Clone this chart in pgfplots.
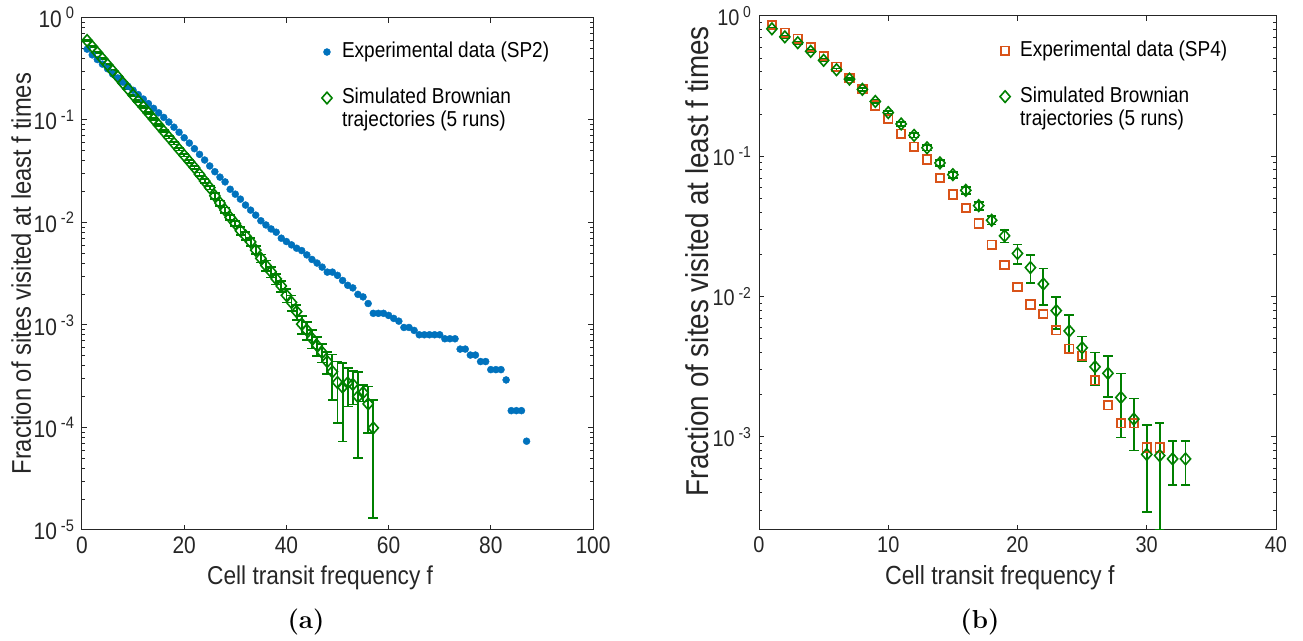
\documentclass[border=0pt]{standalone}
\usepackage{fontspec}
\setsansfont{Liberation Sans}[FakeStretch=0.88]
\usepackage{pgfplots}
\pgfplotsset{compat=1.18}
\usepackage{pgfplotstable}

\definecolor{mblue}{RGB}{0,114,189}
\definecolor{mgreen}{RGB}{0,128,0}
\definecolor{morange}{RGB}{217,83,25}
\definecolor{axgray}{RGB}{38,38,38}

% Panel (a): experimental data SP2
\pgfplotstableread{
f v
1 0.491
2 0.432
3 0.389
4 0.351
5 0.316
6 0.281
7 0.257
8 0.234
9 0.213
10 0.195
11 0.177
12 0.160
13 0.1445
14 0.130
15 0.1175
16 0.106
17 0.0955
18 0.0851
19 0.0759
20 0.0671
21 0.0596
22 0.0525
23 0.0462
24 0.0407
25 0.0356
26 0.0313
27 0.0277
28 0.0249
29 0.0211
30 0.0189
31 0.0169
32 0.0148
33 0.0132
34 0.0118
35 0.0104
36 0.00946
37 0.00865
38 0.00804
39 0.00703
40 0.00652
41 0.00605
42 0.00561
43 0.00532
44 0.00483
45 0.00436
46 0.00402
47 0.00367
48 0.00328
49 0.00328
50 0.00305
51 0.00272
52 0.00244
53 0.00230
54 0.00199
55 0.00188
56 0.00162
57 0.00130
58 0.00130
59 0.00130
60 0.00124
61 0.00116
62 0.00109
63 0.000946
64 0.000946
65 0.000885
66 0.000803
67 0.000803
68 0.000803
69 0.000803
70 0.000803
71 0.000734
72 0.000734
73 0.000734
74 0.000582
75 0.000582
76 0.000509
77 0.000509
78 0.000440
79 0.000440
80 0.000367
81 0.000367
82 0.000367
83 0.000291
84 0.000146
85 0.000146
86 0.000146
87 0.0000735
}\expA

% Panel (a): simulated Brownian trajectories
\pgfplotstableread{
f v e
1 0.596 0.009
2 0.520 0.008
3 0.454 0.007
4 0.396 0.006
5 0.346 0.005
6 0.302 0.0045
7 0.264 0.004
8 0.230 0.0035
9 0.201 0.003
10 0.175 0.0026
11 0.153 0.0038
12 0.134 0.0034
13 0.117 0.0029
14 0.102 0.0026
15 0.0889 0.0022
16 0.0776 0.0019
17 0.0678 0.0017
18 0.0592 0.0015
19 0.0516 0.0013
20 0.0451 0.0011
21 0.0394 0.0016
22 0.0344 0.0014
23 0.0295 0.0012
24 0.0254 0.0010
25 0.0219 0.0009
26 0.0182 0.0011
27 0.0155 0.0009
28 0.0132 0.0008
29 0.0112 0.0007
30 0.00977 0.0006
31 0.00832 0.00075
32 0.00741 0.00067
33 0.00646 0.00058
34 0.00537 0.00048
35 0.00447 0.0004
36 0.00380 0.00046
37 0.00331 0.0004
38 0.00282 0.00034
39 0.00240 0.00029
40 0.00195 0.00029
41 0.00166 0.00028
42 0.00135 0.00023
43 0.00102 0.0002
44 0.00089 0.00018
45 0.00074 0.00015
46 0.00063 0.00013
47 0.00054 0.00011
48 0.00044 0.00011
49 0.00035 0.000166
50 0.000275 0.000165
51 0.000248 0.000175
52 0.000272 0.000112
53 0.000263 0.000095
54 0.000200 0.00015
55 0.000219 0.00004
56 0.000170 0.000081
57 0.000099 0.000086
}\simA

% Panel (b): experimental data SP4
\pgfplotstableread{
f v
1 0.86
2 0.76
3 0.69
4 0.60
5 0.52
6 0.435
7 0.36
8 0.30
9 0.23
10 0.185
11 0.145
12 0.117
13 0.095
14 0.070
15 0.0535
16 0.0428
17 0.0332
18 0.0234
19 0.0168
20 0.0117
21 0.00877
22 0.00752
23 0.00575
24 0.00425
25 0.00379
26 0.00253
27 0.00168
28 0.00125
29 0.00125
30 0.00084
31 0.00084
}\expB

% Panel (b): simulated Brownian trajectories
\pgfplotstableread{
f v e
1 0.81 0.01
2 0.71 0.01
3 0.645 0.01
4 0.56 0.009
5 0.483 0.008
6 0.414 0.008
7 0.355 0.007
8 0.30 0.007
9 0.246 0.006
10 0.205 0.006
11 0.170 0.006
12 0.141 0.005
13 0.115 0.005
14 0.0897 0.004
15 0.074 0.0035
16 0.0572 0.003
17 0.0445 0.003
18 0.0350 0.0024
19 0.0271 0.0028
20 0.0203 0.0032
21 0.0161 0.0036
22 0.0123 0.00355
23 0.00794 0.00204
24 0.00569 0.00169
25 0.00432 0.00087
26 0.00316 0.00083
27 0.00284 0.00091
28 0.00191 0.00092
29 0.00134 0.00054
30 0.00075 0.00046
31 0.000736 0.00052
32 0.000697 0.00024
33 0.000697 0.00024
}\simB

\begin{document}
\begin{tikzpicture}
\path[use as bounding box] (0,0) rectangle (651.5pt,320.5pt);

\begin{axis}[
  scale only axis,
  ymode=log,
  axis line style={axgray, line width=0.5pt},
  major tick length=2.6pt,
  minor tick length=1.5pt,
  tick align=inside,
  tick style={axgray, line width=0.5pt},
  tick label style={font=\sffamily\fontsize{11.9}{13}\selectfont, text=axgray},
  legend cell align=left,
  legend style={draw=none, fill=none, inner sep=0pt, outer sep=0pt,
    font=\sffamily\fontsize{10.8}{12}\selectfont,
    row sep=0pt, column sep=5pt,
    nodes={inner sep=0pt, text height=8.5pt, text depth=3pt},
    at={(0.446,0.9551)}, anchor=north west},
  at={(41pt,55.5pt)}, anchor=south west,
  width=255.5pt, height=256.25pt,
  xmin=0, xmax=100, ymin=1e-5, ymax=1,
  xtick={0,20,40,60,80,100},
  xticklabels={0,20,40,60,80,100},
  ytick={1e-5,1e-4,1e-3,1e-2,1e-1,1},
  yticklabels={10\,\textsuperscript{-5},10\,\textsuperscript{-4},10\,\textsuperscript{-3},10\,\textsuperscript{-2},10\,\textsuperscript{-1},10\,\textsuperscript{0}},
  minor ytick={2e-5,3e-5,4e-5,5e-5,6e-5,7e-5,8e-5,9e-5,
    2e-4,3e-4,4e-4,5e-4,6e-4,7e-4,8e-4,9e-4,
    2e-3,3e-3,4e-3,5e-3,6e-3,7e-3,8e-3,9e-3,
    2e-2,3e-2,4e-2,5e-2,6e-2,7e-2,8e-2,9e-2,
    0.2,0.3,0.4,0.5,0.6,0.7,0.8,0.9},
  xlabel={Cell transit frequency f},
  ylabel={Fraction of sites visited at least f times},
  xlabel style={font=\sffamily\fontsize{12.9}{14}\selectfont, text=axgray, at={(axis description cs:0.466,-0.094)}, anchor=center},
  ylabel style={font=\sffamily\fontsize{13.5}{15}\selectfont, text=axgray, at={(axis description cs:-0.119,0.5)}, anchor=center},
]
\addplot[only marks, mark=*, mark size=1.75pt, mark options={fill=mblue, draw=mblue, line width=0.2pt}] table[x=f, y=v] {\expA};
\addlegendentry{Experimental data (SP2)}
\addlegendimage{empty legend}
\addlegendentry{}
\addplot[only marks, mark=diamond, mark size=2.9pt,
  mark options={draw=mgreen, fill=none, line width=0.8pt, xscale=1.17, solid},
  error bars/.cd, y dir=both, y explicit,
  error bar style={mgreen, line width=0.9pt},
  error mark options={rotate=90, mgreen, line width=0.9pt, mark size=2.4pt}]
  table[x=f, y=v, y error=e] {\simA};
\addlegendentry{Simulated Brownian}
\addlegendimage{empty legend}
\addlegendentry{trajectories (5 runs)}
\end{axis}

\begin{axis}[
  scale only axis,
  ymode=log,
  axis line style={axgray, line width=0.5pt},
  major tick length=2.6pt,
  minor tick length=1.5pt,
  tick align=inside,
  tick style={axgray, line width=0.5pt},
  tick label style={font=\sffamily\fontsize{11.3}{13}\selectfont, text=axgray},
  legend cell align=left,
  legend style={draw=none, fill=none, inner sep=0pt, outer sep=0pt,
    font=\sffamily\fontsize{10.8}{12}\selectfont,
    row sep=0pt, column sep=5pt,
    nodes={inner sep=0pt, text height=8.5pt, text depth=3pt},
    at={(0.443,0.955)}, anchor=north west},
  at={(379.5pt,55.5pt)}, anchor=south west,
  width=258.5pt, height=257pt,
  xmin=0, xmax=40, ymin=2.17e-4, ymax=1,
  xtick={0,10,20,30,40},
  xticklabels={0,10,20,30,40},
  ytick={1e-3,1e-2,1e-1,1},
  yticklabels={10\,\textsuperscript{-3},10\,\textsuperscript{-2},10\,\textsuperscript{-1},10\,\textsuperscript{0}},
  minor ytick={3e-4,4e-4,5e-4,6e-4,7e-4,8e-4,9e-4,
    2e-3,3e-3,4e-3,5e-3,6e-3,7e-3,8e-3,9e-3,
    2e-2,3e-2,4e-2,5e-2,6e-2,7e-2,8e-2,9e-2,
    0.2,0.3,0.4,0.5,0.6,0.7,0.8,0.9},
  xlabel={Cell transit frequency f},
  ylabel={Fraction of sites visited at least f times},
  xlabel style={font=\sffamily\fontsize{13.1}{14}\selectfont, text=axgray, at={(axis description cs:0.466,-0.093)}, anchor=center},
  ylabel style={font=\sffamily\fontsize{15.8}{17}\selectfont, text=axgray, at={(axis description cs:-0.12,0.523)}, anchor=center},
]
\addplot[only marks, mark=square, mark size=2.1pt, mark options={draw=morange, fill=none, line width=0.9pt}] table[x=f, y=v] {\expB};
\addlegendentry{Experimental data (SP4)}
\addlegendimage{empty legend}
\addlegendentry{}
\addplot[only marks, mark=diamond, mark size=2.9pt,
  mark options={draw=mgreen, fill=none, line width=0.8pt, xscale=1.17, solid},
  error bars/.cd, y dir=both, y explicit,
  error bar style={mgreen, line width=0.9pt},
  error mark options={rotate=90, mgreen, line width=0.9pt, mark size=2.4pt}]
  table[x=f, y=v, y error=e] {\simB};
\addlegendentry{Simulated Brownian}
\addlegendimage{empty legend}
\addlegendentry{trajectories (5 runs)}
\end{axis}

\node[font=\rmfamily\bfseries\fontsize{13}{15}\selectfont] at (153pt,9.5pt) {(a)};
\node[font=\rmfamily\bfseries\fontsize{13}{15}\selectfont] at (490pt,9.5pt) {(b)};
\end{tikzpicture}
\end{document}
